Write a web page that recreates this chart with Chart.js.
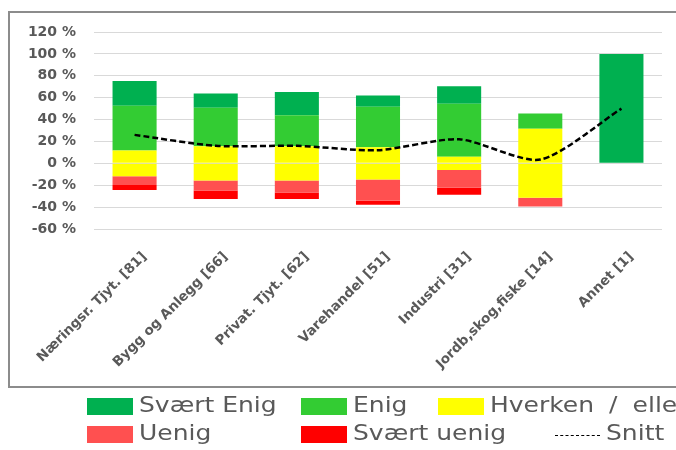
<!DOCTYPE html>
<html>
<head>
<meta charset="utf-8">
<script src="https://cdn.jsdelivr.net/npm/chart.js@4.4.1/dist/chart.umd.min.js"></script>
<style>
  html, body { margin: 0; padding: 0; background: #fff; width: 676px; height: 450px; overflow: hidden; position: relative; }
  #box { position: absolute; left: 8px; top: 11px; width: 720px; height: 377px; box-sizing: border-box; border: 2px solid #8c8c8c; }
  #wrap { position: absolute; left: 0; top: 0; width: 676px; height: 390px; }
  #legend { position: absolute; left: 0; top: 0; width: 676px; height: 450px; pointer-events: none; }
  .item { position: absolute; height: 28px; white-space: nowrap; }
  .sw { position: absolute; left: 0; top: 0; width: 46px; height: 17px; }
  .dash { position: absolute; left: 0; top: 9px; width: 45px; height: 0; border-top: 1px dashed #000; }
  .txt { position: absolute; top: -7px; font-family: "DejaVu Sans", sans-serif; font-size: 21px; color: #595959; transform: scaleX(1.19); transform-origin: 0 0; line-height: 28px; }
</style>
</head>
<body>
<div id="box"></div>
<div id="wrap"><canvas id="c" width="676" height="390"></canvas></div>
<div id="legend"></div>
<script>
const categories = ['Næringsr. Tjyt. [81]', 'Bygg og Anlegg [66]', 'Privat. Tjyt. [62]', 'Varehandel [51]', 'Industri [31]', 'Jordb,skog,fiske [14]', 'Annet [1]'];
const svaertEnig  = [22.6, 13.1, 21.1, 10.3, 15.8, 0, 100];
const enig        = [40.9, 35.1, 28.3, 37.0, 48.5, 14.0, 0];
const hverken     = [23.4, 31.4, 31.4, 29.5, 12.1, 63.1, 0];
const uenig       = [8.0, 9.2, 11.0, 19.5, 16.2, 7.9, 0];
const svaertUenig = [4.6, 7.6, 5.8, 3.7, 6.4, 0, 0];
const snitt       = [26, 16, 16, 12, 22, 3.5, 50];
const yTicks      = [-60, -40, -20, 0, 20, 40, 60, 80, 100, 120];

const C = { se: '#00B050', e: '#33CC33', h: '#FFFF00', u: '#FF5050', su: '#FF0000' };

// Hverken is drawn as a diverging bar: half above and half below zero
const hPos = hverken.map(v => v / 2);
const hNeg = hverken.map(v => -v / 2);
const neg = a => a.map(v => -v);

const bar = (label, data, color) => ({ type: 'bar', label, data, backgroundColor: color, borderWidth: 0, stack: 'main', order: 1, barPercentage: 0.543, categoryPercentage: 1 });

const datasets = [
  bar('Hverken / eller', hPos, C.h),
  bar('Hverken / eller (neg)', hNeg, C.h),
  bar('Enig', enig, C.e),
  bar('Uenig', neg(uenig), C.u),
  bar('Svært Enig', svaertEnig, C.se),
  bar('Svært uenig', neg(svaertUenig), C.su),
  { type: 'line', label: 'Snitt', data: snitt, borderColor: '#000', borderWidth: 2.5, borderDash: [6, 3], pointRadius: 0, tension: 0.25, fill: false, stack: 'snitt', order: 0 }
];

new Chart(document.getElementById('c'), {
  data: { labels: categories, datasets },
  options: {
    responsive: false,
    animation: false,
    events: [],
    layout: { padding: { left: 0, top: 32, right: 14, bottom: 0 } },
    plugins: { legend: { display: false }, tooltip: { enabled: false } },
    scales: {
      x: {
        stacked: true,
        grid: { display: false },
        border: { display: false },
        ticks: { color: '#595959', font: { family: '"DejaVu Sans", sans-serif', weight: 'bold', size: 13.5 }, minRotation: 45, maxRotation: 45, autoSkip: false, padding: 12, labelOffset: 10 },
        afterFit: s => { s.height = 161; }
      },
      y: {
        stacked: true,
        min: yTicks[0], max: yTicks[yTicks.length - 1],
        afterBuildTicks: s => { s.ticks = yTicks.map(v => ({ value: v })); },
        grid: { color: '#d9d9d9', lineWidth: 1, drawTicks: false },
        border: { display: false },
        ticks: { color: '#595959', font: { family: '"DejaVu Sans", sans-serif', weight: 'bold', size: 14 }, padding: 18, callback: v => v + ' %' },
        afterFit: s => { s.width = 94; }
      }
    }
  }
});

// Legend (HTML, built from the series labels and colours)
const legendItems = [
  { label: 'Svært Enig', color: C.se, x: 87, y: 398 },
  { label: 'Enig', color: C.e, x: 301, y: 398 },
  { label: 'Hverken / eller', color: C.h, x: 438, y: 398, ws: 6 },
  { label: 'Uenig', color: C.u, x: 87, y: 426 },
  { label: 'Svært uenig', color: C.su, x: 301, y: 426 },
  { label: 'Snitt', line: true, x: 555, y: 426 }
];
const lg = document.getElementById('legend');
legendItems.forEach(it => {
  const d = document.createElement('div');
  d.className = 'item';
  d.style.left = it.x + 'px';
  d.style.top = it.y + 'px';
  const s = document.createElement('div');
  if (it.line) { s.className = 'dash'; } else { s.className = 'sw'; s.style.background = it.color; }
  d.appendChild(s);
  const t = document.createElement('span');
  t.className = 'txt';
  t.style.left = (it.line ? 51 : 52) + 'px';
  if (it.ws) t.style.wordSpacing = it.ws + 'px';
  t.textContent = it.label;
  d.appendChild(t);
  lg.appendChild(d);
});
</script>
</body>
</html>
